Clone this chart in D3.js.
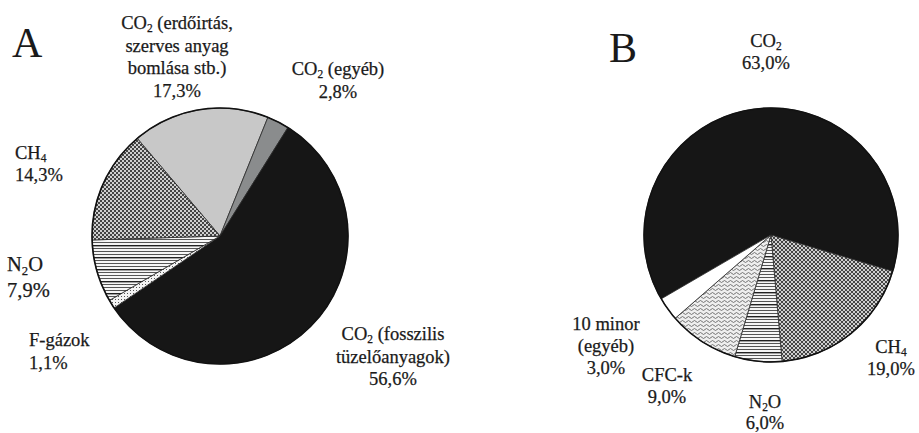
<!DOCTYPE html>
<html><head><meta charset="utf-8">
<script src="https://cdn.jsdelivr.net/npm/d3@7"></script>
<style>
html,body{margin:0;padding:0;background:#fff;}
svg{display:block;}
</style></head>
<body>
<svg id="chart" width="919" height="433"></svg>
<script>
// ---- data ----
const categoriesA = ["CO2 (erdőirtás, szerves anyag bomlása stb.)", "CO2 (egyéb)", "CO2 (fosszilis tüzelőanyagok)", "F-gázok", "N2O", "CH4"];
const valuesA = [17.3, 2.8, 56.6, 1.1, 7.9, 14.3];
const labelLinesA = [
  ["CO|2| (erdőirtás,", "szerves anyag", "bomlása stb.)", "17,3%"],
  ["CO|2| (egyéb)", "2,8%"],
  ["CO|2| (fosszilis", "tüzelőanyagok)", "56,6%"],
  ["F-gázok", "1,1%"],
  ["N|2|O", "7,9%"],
  ["CH|4", "14,3%"]
];
const categoriesB = ["CO2", "CH4", "N2O", "CFC-k", "10 minor (egyéb)"];
const valuesB = [63.0, 19.0, 6.0, 9.0, 3.0];
const labelLinesB = [
  ["CO|2", "63,0%"],
  ["CH|4", "19,0%"],
  ["N|2|O", "6,0%"],
  ["CFC-k", "9,0%"],
  ["10 minor", "(egyéb)", "3,0%"]
];
const panelTitles = ["A", "B"];

// ---- layout / style (separate from data) ----
const FONT = "'Liberation Serif', 'Times New Roman', Tinos, 'DejaVu Serif', serif";
const fillsA = ["#c8c8c8", "#8a8c8d", "#161616", "url(#dots)", "url(#hlines)", "url(#checker)"];
const fillsB = ["#161616", "url(#checker)", "url(#hlines)", "url(#wavy)", "#ffffff"];
const layoutA = {cx: 220, cy: 236, r: 128, start: -40.3,
  labels: [
    {x: 177, y: 29, anchor: "middle", lh: 22.7},
    {x: 338, y: 75, anchor: "middle", lh: 22.5},
    {x: 393, y: 340, anchor: "middle", lh: 22.5},
    {x: 29, y: 346, anchor: "start", lh: 23},
    {x: 7, y: 271, anchor: "start", lh: 26, size: 20.5},
    {x: 15, y: 159, anchor: "start", lh: 21.5}
  ], title: {x: 12, y: 57}};
const layoutB = {cx: 771, cy: 235, r: 127, start: -120.2,
  labels: [
    {x: 766, y: 47, anchor: "middle", lh: 22},
    {x: 891, y: 353, anchor: "middle", lh: 22},
    {x: 765, y: 408, anchor: "middle", lh: 21},
    {x: 667, y: 381, anchor: "middle", lh: 22},
    {x: 606, y: 330, anchor: "middle", lh: 22}
  ], title: {x: 609, y: 62}};
const fontSize = 18.5;

const svg = d3.select("#chart");
const defs = svg.append("defs");

// checker pattern
const pc = defs.append("pattern").attr("id", "checker").attr("patternUnits", "userSpaceOnUse")
  .attr("width", 4).attr("height", 4);
pc.append("rect").attr("width", 4).attr("height", 4).attr("fill", "#cfcfcf");
pc.append("rect").attr("width", 2).attr("height", 2).attr("fill", "#444");
pc.append("rect").attr("x", 2).attr("y", 2).attr("width", 2).attr("height", 2).attr("fill", "#444");

// horizontal lines pattern
const ph = defs.append("pattern").attr("id", "hlines").attr("patternUnits", "userSpaceOnUse")
  .attr("width", 8).attr("height", 12);
ph.append("rect").attr("width", 8).attr("height", 12).attr("fill", "#f6f6f6");
[0, 3, 6].forEach(y => ph.append("rect").attr("y", y).attr("width", 8).attr("height", 1).attr("fill", "#555"));
ph.append("rect").attr("y", 9).attr("width", 8).attr("height", 1.4).attr("fill", "#222");

// dots pattern
const pd = defs.append("pattern").attr("id", "dots").attr("patternUnits", "userSpaceOnUse")
  .attr("width", 3).attr("height", 3);
pd.append("rect").attr("width", 3).attr("height", 3).attr("fill", "#f4f4f4");
pd.append("rect").attr("width", 1).attr("height", 1).attr("fill", "#555");

// wavy pattern
const pw = defs.append("pattern").attr("id", "wavy").attr("patternUnits", "userSpaceOnUse")
  .attr("width", 6).attr("height", 4);
pw.append("rect").attr("width", 6).attr("height", 4).attr("fill", "#eeeeee");
pw.append("path").attr("d", "M0,2.5 Q1.5,0.5 3,2.5 T6,2.5").attr("fill", "none")
  .attr("stroke", "#666").attr("stroke-width", 0.9);

function addLine(textSel, line) {
  const parts = line.split("|");
  parts.forEach((p, i) => {
    if (p === "") return;
    const ts = textSel.append("tspan").text(p);
    if (i % 2 === 1) {
      ts.attr("font-size", "0.62em").attr("dy", "0.3em");
    } else if (i > 0) {
      ts.attr("dy", "-0.186em");
    }
  });
}

function drawPie(values, fills, lines, layout, title) {
  const pie = d3.pie().sort(null).value(d => d)
    .startAngle(layout.start * Math.PI / 180)
    .endAngle(layout.start * Math.PI / 180 + 2 * Math.PI);
  const arc = d3.arc().innerRadius(0).outerRadius(layout.r);
  const g = svg.append("g").attr("transform", `translate(${layout.cx},${layout.cy})`);
  g.selectAll("path.slice").data(pie(values)).join("path")
    .attr("class", "slice")
    .attr("d", arc)
    .attr("fill", (d, i) => fills[i])
    .attr("stroke", "#2a2a2a").attr("stroke-width", 0.8).attr("stroke-linejoin", "round");
  g.append("path").attr("d", d3.arc().innerRadius(0).outerRadius(layout.r)({startAngle: 0, endAngle: 2 * Math.PI}))
    .attr("fill", "none").attr("stroke", "#111").attr("stroke-width", 1.6);

  lines.forEach((ls, i) => {
    const L = layout.labels[i];
    ls.forEach((line, j) => {
      const tl = svg.append("text").attr("x", L.x).attr("y", L.y + j * L.lh)
        .attr("text-anchor", L.anchor).attr("font-size", L.size || fontSize)
        .attr("font-family", FONT).attr("fill", "#1a1a1a")
        .attr("stroke", "#1a1a1a").attr("stroke-width", 0.25);
      addLine(tl, line);
    });
  });
  svg.append("text").attr("x", layout.title.x).attr("y", layout.title.y)
    .attr("font-family", FONT).attr("fill", "#1a1a1a")
    .attr("font-size", 42).text(title);
}

drawPie(valuesA, fillsA, labelLinesA, layoutA, panelTitles[0]);
drawPie(valuesB, fillsB, labelLinesB, layoutB, panelTitles[1]);
</script>
</body></html>
